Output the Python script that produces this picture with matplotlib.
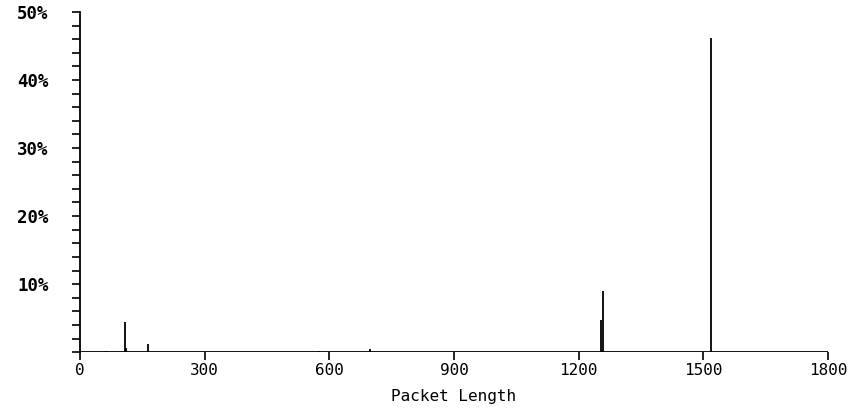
import matplotlib
matplotlib.use("Agg")
import matplotlib.pyplot as plt
from matplotlib.ticker import MultipleLocator, FuncFormatter

# Packet length distribution (percent of packets at each length)
lengths = [64, 108, 110, 164, 576, 698, 1254, 1258, 1518]
percents = [0.2, 4.4, 0.6, 1.2, 0.2, 0.5, 4.8, 9.0, 46.2]

x_ticks = [0, 300, 600, 900, 1200, 1500, 1800]
y_ticks = [10, 20, 30, 40, 50]

fig = plt.figure(figsize=(8.59, 4.11), dpi=100)
ax = fig.add_axes([0.093, 0.143, 0.871, 0.828])

ax.vlines(lengths, 0, percents, colors="black", linewidth=1.3)
ax.axhline(0, color="black", linewidth=1.3)

ax.set_xlim(0, 1800)
ax.set_ylim(0, 50)

for side in ("top", "right", "bottom"):
    ax.spines[side].set_visible(False)
ax.spines["left"].set_linewidth(1.3)

ax.set_xticks(x_ticks)
ax.set_xticklabels([str(v) for v in x_ticks])
ax.set_yticks(y_ticks)
ax.yaxis.set_major_formatter(FuncFormatter(lambda v, p: f"{int(v)}%"))
ax.yaxis.set_minor_locator(MultipleLocator(2))

ax.tick_params(axis="x", direction="out", length=6, width=1.2, pad=2,
               labelsize=11.5)
ax.tick_params(axis="y", which="both", direction="out", length=5.5,
               width=1.2, pad=17, labelsize=12.5)
for lab in ax.get_xticklabels():
    lab.set_fontfamily("DejaVu Sans Mono")
for lab in ax.get_yticklabels():
    lab.set_fontfamily("DejaVu Sans Mono")
    lab.set_fontweight("bold")

ax.set_xlabel("Packet Length", fontfamily="DejaVu Sans Mono", fontsize=11.5,
              labelpad=8)

fig.savefig("out.png", dpi=100, facecolor="white")
